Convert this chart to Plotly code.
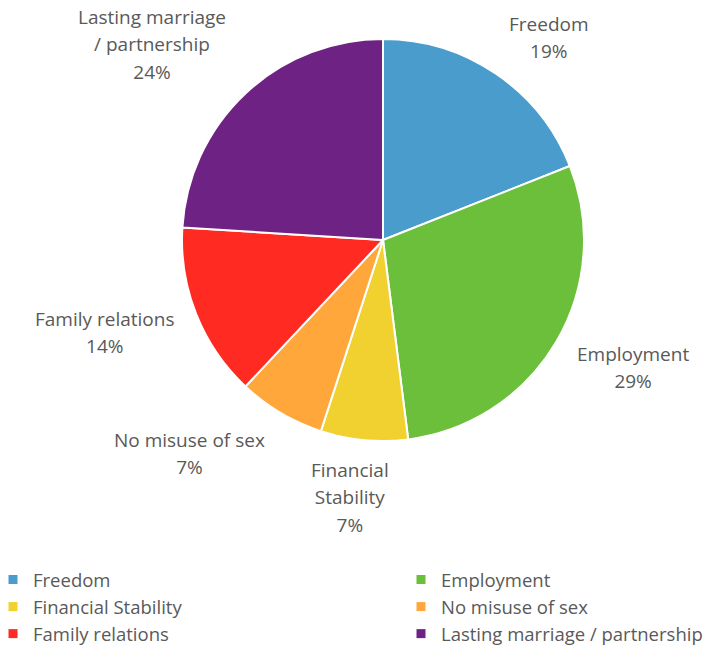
import math
import plotly.graph_objects as go

# Slice data, clockwise from 12 o'clock
labels = ["Freedom", "Employment", "Financial Stability",
          "No misuse of sex", "Family relations", "Lasting marriage / partnership"]
values = [19, 29, 7, 7, 14, 24]
label_text = ["Freedom", "Employment", "Financial<br>Stability",
              "No misuse of sex", "Family relations", "Lasting marriage<br>/ partnership"]
colors = ["#4A9CCC", "#6CBF3A", "#F0D12F", "#FFA73B", "#FF2B22", "#6E2283"]

# fine pixel nudges for each data label (x right, y up)
label_nudge = [(3, -4), (7, 10), (-13, -1), (-7, 0), (-6, 15), (-8, -4)]

# legend layout: left column / right column
left_col = [0, 2, 4]
right_col = [1, 3, 5]

W, H = 718, 646
CX, CY, R = 383, 240, 201          # pie centre and radius in pixels
FONT = "'Open Sans', sans-serif"
TXT = "#595959"
FS = 19
LEG_FS = 18.5
LINE_FS = 21                       # sets the line pitch of the data labels

fig = go.Figure()
fig.add_trace(go.Pie(
    labels=labels, values=values, sort=False, direction="clockwise", rotation=0,
    marker=dict(colors=colors, line=dict(color="white", width=2)),
    textinfo="none", hoverinfo="label+percent", showlegend=False,
    domain=dict(x=[(CX - R) / W, (CX + R) / W], y=[1 - (CY + R) / H, 1 - (CY - R) / H]),
))

# outside data labels placed at each slice's mid angle
total = sum(values)
cum = 0
for v, t, (nx, ny) in zip(values, label_text, label_nudge):
    mid = (cum + v / 2) / total * 2 * math.pi
    cum += v
    s, c = math.sin(mid), math.cos(mid)
    px = CX + 1.07 * R * s
    py = CY - 1.07 * R * c
    xa = "left" if s > 0.3 else ("right" if s < -0.3 else "center")
    ya = "bottom" if c > 0.3 else ("top" if c < -0.3 else "middle")
    pct = round(v / total * 100)
    lines = (t + "<br>" + f"{pct}%").split("<br>")
    txt = "<br>".join(f"<span style='font-size:{FS}px'>{ln}</span>" for ln in lines)
    fig.add_annotation(
        x=px / W, y=1 - py / H, xref="paper", yref="paper",
        xanchor=xa, yanchor=ya, xshift=nx, yshift=ny,
        showarrow=False, align="center",
        text=txt, font=dict(family=FONT, size=LINE_FS, color=TXT),
    )

# legend entries
for idx_list, lg in ((left_col, "legend"), (right_col, "legend2")):
    for i in idx_list:
        fig.add_trace(go.Scatter(
            x=[None], y=[None], mode="markers", name=labels[i], legend=lg,
            marker=dict(symbol="square", size=9, color=colors[i]),
        ))

legend_style = dict(orientation="v", yanchor="top", xanchor="left", maxheight=200,
                    font=dict(family=FONT, size=LEG_FS, color=TXT),
                    bgcolor="rgba(0,0,0,0)", tracegroupgap=0, itemclick=False)

fig.update_layout(
    width=W, height=H, margin=dict(l=0, r=0, t=0, b=0, autoexpand=False),
    paper_bgcolor="white", plot_bgcolor="white",
    xaxis=dict(visible=False), yaxis=dict(visible=False),
    legend=dict(x=-7 / W, y=1 - 561 / H, **legend_style),
    legend2=dict(x=401 / W, y=1 - 561 / H, **legend_style),
)

fig.write_html("out.html")
